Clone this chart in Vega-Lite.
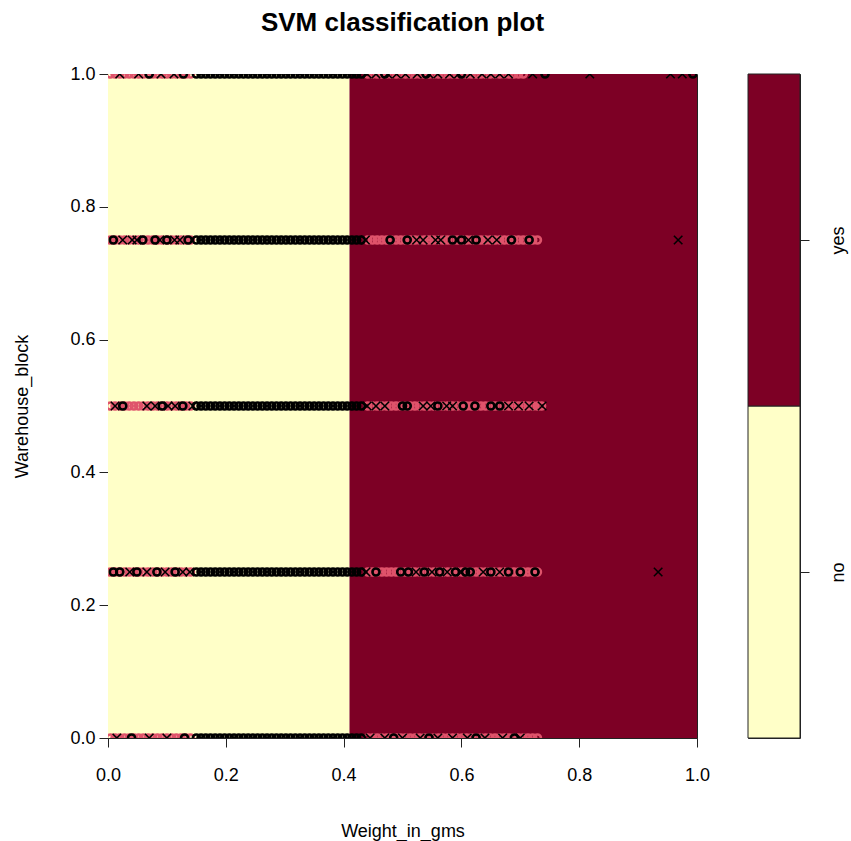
{
"$schema":"https://vega.github.io/schema/vega-lite/v6.json",
"autosize":{"type":"pad"},
"padding":{"left":13,"top":9,"right":5,"bottom":20},
"background":"white",
"config":{
 "view":{"stroke":"#222","strokeWidth":1},
 "font":"Liberation Sans",
 "axis":{"labelFont":"Liberation Sans","labelFontSize":18,"labelColor":"#000","titleFont":"Liberation Sans","titleFontSize":18,"titleFontWeight":"normal","titleColor":"#000","tickColor":"#222","domainColor":"#222","grid":false,"labelFlush":false,"labelOverlap":false},
 "title":{"font":"Liberation Sans","fontSize":26,"fontWeight":"bold","color":"#000"}
},
"datasets":{
 "regions":[{"x0":0,"x1":0.41,"y0":0,"y1":1,"pred":"no"},{"x0":0.41,"x1":1,"y0":0,"y1":1,"pred":"yes"}],
 "legend":[{"cls":"no","lo":0,"hi":1},{"cls":"yes","lo":1,"hi":2}],
 "yes_o":[
{"w":0.004,"b":1},{"w":0.012,"b":1},{"w":0.02,"b":1},{"w":0.028,"b":1},{"w":0.036,"b":1},{"w":0.044,"b":1},{"w":0.052,"b":1},{"w":0.06,"b":1},{"w":0.068,"b":1},{"w":0.076,"b":1},{"w":0.084,"b":1},{"w":0.092,"b":1},{"w":0.1,"b":1},{"w":0.108,"b":1},{"w":0.116,"b":1},{"w":0.124,"b":1},{"w":0.132,"b":1},{"w":0.14,"b":1},
{"w":0.441,"b":1},{"w":0.449,"b":1},{"w":0.457,"b":1},{"w":0.465,"b":1},{"w":0.473,"b":1},{"w":0.481,"b":1},{"w":0.489,"b":1},{"w":0.497,"b":1},{"w":0.505,"b":1},{"w":0.513,"b":1},{"w":0.521,"b":1},{"w":0.529,"b":1},{"w":0.537,"b":1},{"w":0.545,"b":1},{"w":0.553,"b":1},{"w":0.561,"b":1},{"w":0.569,"b":1},{"w":0.577,"b":1},{"w":0.585,"b":1},{"w":0.593,"b":1},{"w":0.601,"b":1},{"w":0.609,"b":1},{"w":0.617,"b":1},{"w":0.625,"b":1},{"w":0.633,"b":1},{"w":0.641,"b":1},{"w":0.649,"b":1},{"w":0.657,"b":1},{"w":0.665,"b":1},{"w":0.673,"b":1},{"w":0.681,"b":1},{"w":0.689,"b":1},{"w":0.697,"b":1},{"w":0.705,"b":1},
{"w":0.004,"b":0.75},{"w":0.012,"b":0.75},{"w":0.02,"b":0.75},{"w":0.028,"b":0.75},{"w":0.036,"b":0.75},{"w":0.044,"b":0.75},{"w":0.052,"b":0.75},{"w":0.06,"b":0.75},{"w":0.068,"b":0.75},{"w":0.076,"b":0.75},{"w":0.084,"b":0.75},{"w":0.092,"b":0.75},{"w":0.1,"b":0.75},{"w":0.108,"b":0.75},{"w":0.116,"b":0.75},{"w":0.124,"b":0.75},{"w":0.132,"b":0.75},{"w":0.14,"b":0.75},
{"w":0.441,"b":0.75},{"w":0.449,"b":0.75},{"w":0.457,"b":0.75},{"w":0.465,"b":0.75},{"w":0.473,"b":0.75},{"w":0.481,"b":0.75},{"w":0.489,"b":0.75},{"w":0.497,"b":0.75},{"w":0.505,"b":0.75},{"w":0.513,"b":0.75},{"w":0.521,"b":0.75},{"w":0.529,"b":0.75},{"w":0.537,"b":0.75},{"w":0.545,"b":0.75},{"w":0.553,"b":0.75},{"w":0.561,"b":0.75},{"w":0.569,"b":0.75},{"w":0.577,"b":0.75},{"w":0.585,"b":0.75},{"w":0.593,"b":0.75},{"w":0.601,"b":0.75},{"w":0.609,"b":0.75},{"w":0.617,"b":0.75},{"w":0.625,"b":0.75},{"w":0.633,"b":0.75},{"w":0.641,"b":0.75},{"w":0.649,"b":0.75},{"w":0.657,"b":0.75},{"w":0.665,"b":0.75},{"w":0.673,"b":0.75},{"w":0.681,"b":0.75},{"w":0.689,"b":0.75},{"w":0.697,"b":0.75},{"w":0.705,"b":0.75},{"w":0.713,"b":0.75},{"w":0.721,"b":0.75},{"w":0.729,"b":0.75},
{"w":0.004,"b":0.5},{"w":0.012,"b":0.5},{"w":0.02,"b":0.5},{"w":0.028,"b":0.5},{"w":0.036,"b":0.5},{"w":0.044,"b":0.5},{"w":0.052,"b":0.5},{"w":0.06,"b":0.5},{"w":0.068,"b":0.5},{"w":0.076,"b":0.5},{"w":0.084,"b":0.5},{"w":0.092,"b":0.5},{"w":0.1,"b":0.5},{"w":0.108,"b":0.5},{"w":0.116,"b":0.5},{"w":0.124,"b":0.5},{"w":0.132,"b":0.5},{"w":0.14,"b":0.5},
{"w":0.441,"b":0.5},{"w":0.449,"b":0.5},{"w":0.457,"b":0.5},{"w":0.465,"b":0.5},{"w":0.473,"b":0.5},{"w":0.481,"b":0.5},{"w":0.489,"b":0.5},{"w":0.497,"b":0.5},{"w":0.505,"b":0.5},{"w":0.513,"b":0.5},{"w":0.521,"b":0.5},{"w":0.529,"b":0.5},{"w":0.537,"b":0.5},{"w":0.545,"b":0.5},{"w":0.553,"b":0.5},{"w":0.561,"b":0.5},{"w":0.569,"b":0.5},{"w":0.577,"b":0.5},{"w":0.585,"b":0.5},{"w":0.593,"b":0.5},{"w":0.601,"b":0.5},{"w":0.609,"b":0.5},{"w":0.617,"b":0.5},{"w":0.625,"b":0.5},{"w":0.633,"b":0.5},{"w":0.641,"b":0.5},{"w":0.649,"b":0.5},{"w":0.657,"b":0.5},{"w":0.665,"b":0.5},{"w":0.673,"b":0.5},{"w":0.681,"b":0.5},{"w":0.689,"b":0.5},{"w":0.697,"b":0.5},{"w":0.705,"b":0.5},{"w":0.713,"b":0.5},{"w":0.721,"b":0.5},{"w":0.729,"b":0.5},{"w":0.736,"b":0.5},
{"w":0.004,"b":0.25},{"w":0.012,"b":0.25},{"w":0.02,"b":0.25},{"w":0.028,"b":0.25},{"w":0.036,"b":0.25},{"w":0.044,"b":0.25},{"w":0.052,"b":0.25},{"w":0.06,"b":0.25},{"w":0.068,"b":0.25},{"w":0.076,"b":0.25},{"w":0.084,"b":0.25},{"w":0.092,"b":0.25},{"w":0.1,"b":0.25},{"w":0.108,"b":0.25},{"w":0.116,"b":0.25},{"w":0.124,"b":0.25},{"w":0.132,"b":0.25},{"w":0.14,"b":0.25},
{"w":0.441,"b":0.25},{"w":0.449,"b":0.25},{"w":0.457,"b":0.25},{"w":0.465,"b":0.25},{"w":0.473,"b":0.25},{"w":0.481,"b":0.25},{"w":0.489,"b":0.25},{"w":0.497,"b":0.25},{"w":0.505,"b":0.25},{"w":0.513,"b":0.25},{"w":0.521,"b":0.25},{"w":0.529,"b":0.25},{"w":0.537,"b":0.25},{"w":0.545,"b":0.25},{"w":0.553,"b":0.25},{"w":0.561,"b":0.25},{"w":0.569,"b":0.25},{"w":0.577,"b":0.25},{"w":0.585,"b":0.25},{"w":0.593,"b":0.25},{"w":0.601,"b":0.25},{"w":0.609,"b":0.25},{"w":0.617,"b":0.25},{"w":0.625,"b":0.25},{"w":0.633,"b":0.25},{"w":0.641,"b":0.25},{"w":0.649,"b":0.25},{"w":0.657,"b":0.25},{"w":0.665,"b":0.25},{"w":0.673,"b":0.25},{"w":0.681,"b":0.25},{"w":0.689,"b":0.25},{"w":0.697,"b":0.25},{"w":0.705,"b":0.25},{"w":0.713,"b":0.25},{"w":0.721,"b":0.25},{"w":0.729,"b":0.25},
{"w":0.004,"b":0},{"w":0.012,"b":0},{"w":0.02,"b":0},{"w":0.028,"b":0},{"w":0.036,"b":0},{"w":0.044,"b":0},{"w":0.052,"b":0},{"w":0.06,"b":0},{"w":0.068,"b":0},{"w":0.076,"b":0},{"w":0.084,"b":0},{"w":0.092,"b":0},{"w":0.1,"b":0},{"w":0.108,"b":0},{"w":0.116,"b":0},{"w":0.124,"b":0},{"w":0.132,"b":0},{"w":0.14,"b":0},
{"w":0.441,"b":0},{"w":0.449,"b":0},{"w":0.457,"b":0},{"w":0.465,"b":0},{"w":0.473,"b":0},{"w":0.481,"b":0},{"w":0.489,"b":0},{"w":0.497,"b":0},{"w":0.505,"b":0},{"w":0.513,"b":0},{"w":0.521,"b":0},{"w":0.529,"b":0},{"w":0.537,"b":0},{"w":0.545,"b":0},{"w":0.553,"b":0},{"w":0.561,"b":0},{"w":0.569,"b":0},{"w":0.577,"b":0},{"w":0.585,"b":0},{"w":0.593,"b":0},{"w":0.601,"b":0},{"w":0.609,"b":0},{"w":0.617,"b":0},{"w":0.625,"b":0},{"w":0.633,"b":0},{"w":0.641,"b":0},{"w":0.649,"b":0},{"w":0.657,"b":0},{"w":0.665,"b":0},{"w":0.673,"b":0},{"w":0.681,"b":0},{"w":0.689,"b":0},{"w":0.697,"b":0},{"w":0.705,"b":0},{"w":0.713,"b":0},{"w":0.721,"b":0},{"w":0.729,"b":0}
 ],
 "no_o":[
{"w":0.15,"b":1},{"w":0.158,"b":1},{"w":0.166,"b":1},{"w":0.174,"b":1},{"w":0.182,"b":1},{"w":0.19,"b":1},{"w":0.198,"b":1},{"w":0.206,"b":1},{"w":0.214,"b":1},{"w":0.222,"b":1},{"w":0.23,"b":1},{"w":0.238,"b":1},{"w":0.246,"b":1},{"w":0.254,"b":1},{"w":0.262,"b":1},{"w":0.27,"b":1},{"w":0.278,"b":1},{"w":0.286,"b":1},{"w":0.294,"b":1},{"w":0.302,"b":1},{"w":0.31,"b":1},{"w":0.318,"b":1},{"w":0.326,"b":1},{"w":0.334,"b":1},{"w":0.342,"b":1},{"w":0.35,"b":1},{"w":0.358,"b":1},{"w":0.366,"b":1},{"w":0.374,"b":1},{"w":0.382,"b":1},{"w":0.39,"b":1},{"w":0.398,"b":1},{"w":0.406,"b":1},{"w":0.414,"b":1},{"w":0.422,"b":1},{"w":0.43,"b":1},
{"w":0.07,"b":1},{"w":0.128,"b":1},{"w":0.47,"b":1},{"w":0.54,"b":1},{"w":0.6,"b":1},{"w":0.742,"b":1},{"w":0.993,"b":1},
{"w":0.15,"b":0.75},{"w":0.158,"b":0.75},{"w":0.166,"b":0.75},{"w":0.174,"b":0.75},{"w":0.182,"b":0.75},{"w":0.19,"b":0.75},{"w":0.198,"b":0.75},{"w":0.206,"b":0.75},{"w":0.214,"b":0.75},{"w":0.222,"b":0.75},{"w":0.23,"b":0.75},{"w":0.238,"b":0.75},{"w":0.246,"b":0.75},{"w":0.254,"b":0.75},{"w":0.262,"b":0.75},{"w":0.27,"b":0.75},{"w":0.278,"b":0.75},{"w":0.286,"b":0.75},{"w":0.294,"b":0.75},{"w":0.302,"b":0.75},{"w":0.31,"b":0.75},{"w":0.318,"b":0.75},{"w":0.326,"b":0.75},{"w":0.334,"b":0.75},{"w":0.342,"b":0.75},{"w":0.35,"b":0.75},{"w":0.358,"b":0.75},{"w":0.366,"b":0.75},{"w":0.374,"b":0.75},{"w":0.382,"b":0.75},{"w":0.39,"b":0.75},{"w":0.398,"b":0.75},{"w":0.406,"b":0.75},{"w":0.414,"b":0.75},{"w":0.422,"b":0.75},{"w":0.43,"b":0.75},
{"w":0.009,"b":0.75},{"w":0.059,"b":0.75},{"w":0.08,"b":0.75},{"w":0.1,"b":0.75},{"w":0.136,"b":0.75},{"w":0.479,"b":0.75},{"w":0.508,"b":0.75},{"w":0.585,"b":0.75},{"w":0.6,"b":0.75},{"w":0.625,"b":0.75},{"w":0.685,"b":0.75},{"w":0.715,"b":0.75},
{"w":0.15,"b":0.5},{"w":0.158,"b":0.5},{"w":0.166,"b":0.5},{"w":0.174,"b":0.5},{"w":0.182,"b":0.5},{"w":0.19,"b":0.5},{"w":0.198,"b":0.5},{"w":0.206,"b":0.5},{"w":0.214,"b":0.5},{"w":0.222,"b":0.5},{"w":0.23,"b":0.5},{"w":0.238,"b":0.5},{"w":0.246,"b":0.5},{"w":0.254,"b":0.5},{"w":0.262,"b":0.5},{"w":0.27,"b":0.5},{"w":0.278,"b":0.5},{"w":0.286,"b":0.5},{"w":0.294,"b":0.5},{"w":0.302,"b":0.5},{"w":0.31,"b":0.5},{"w":0.318,"b":0.5},{"w":0.326,"b":0.5},{"w":0.334,"b":0.5},{"w":0.342,"b":0.5},{"w":0.35,"b":0.5},{"w":0.358,"b":0.5},{"w":0.366,"b":0.5},{"w":0.374,"b":0.5},{"w":0.382,"b":0.5},{"w":0.39,"b":0.5},{"w":0.398,"b":0.5},{"w":0.406,"b":0.5},{"w":0.414,"b":0.5},{"w":0.422,"b":0.5},{"w":0.43,"b":0.5},
{"w":0.025,"b":0.5},{"w":0.092,"b":0.5},{"w":0.127,"b":0.5},{"w":0.5,"b":0.5},{"w":0.508,"b":0.5},{"w":0.56,"b":0.5},{"w":0.603,"b":0.5},{"w":0.623,"b":0.5},{"w":0.65,"b":0.5},{"w":0.665,"b":0.5},
{"w":0.15,"b":0.25},{"w":0.158,"b":0.25},{"w":0.166,"b":0.25},{"w":0.174,"b":0.25},{"w":0.182,"b":0.25},{"w":0.19,"b":0.25},{"w":0.198,"b":0.25},{"w":0.206,"b":0.25},{"w":0.214,"b":0.25},{"w":0.222,"b":0.25},{"w":0.23,"b":0.25},{"w":0.238,"b":0.25},{"w":0.246,"b":0.25},{"w":0.254,"b":0.25},{"w":0.262,"b":0.25},{"w":0.27,"b":0.25},{"w":0.278,"b":0.25},{"w":0.286,"b":0.25},{"w":0.294,"b":0.25},{"w":0.302,"b":0.25},{"w":0.31,"b":0.25},{"w":0.318,"b":0.25},{"w":0.326,"b":0.25},{"w":0.334,"b":0.25},{"w":0.342,"b":0.25},{"w":0.35,"b":0.25},{"w":0.358,"b":0.25},{"w":0.366,"b":0.25},{"w":0.374,"b":0.25},{"w":0.382,"b":0.25},{"w":0.39,"b":0.25},{"w":0.398,"b":0.25},{"w":0.406,"b":0.25},{"w":0.414,"b":0.25},{"w":0.422,"b":0.25},{"w":0.43,"b":0.25},
{"w":0.009,"b":0.25},{"w":0.02,"b":0.25},{"w":0.049,"b":0.25},{"w":0.083,"b":0.25},{"w":0.114,"b":0.25},{"w":0.455,"b":0.25},{"w":0.497,"b":0.25},{"w":0.51,"b":0.25},{"w":0.537,"b":0.25},{"w":0.563,"b":0.25},{"w":0.59,"b":0.25},{"w":0.607,"b":0.25},{"w":0.615,"b":0.25},{"w":0.65,"b":0.25},{"w":0.68,"b":0.25},{"w":0.7,"b":0.25},{"w":0.725,"b":0.25},
{"w":0.15,"b":0},{"w":0.158,"b":0},{"w":0.166,"b":0},{"w":0.174,"b":0},{"w":0.182,"b":0},{"w":0.19,"b":0},{"w":0.198,"b":0},{"w":0.206,"b":0},{"w":0.214,"b":0},{"w":0.222,"b":0},{"w":0.23,"b":0},{"w":0.238,"b":0},{"w":0.246,"b":0},{"w":0.254,"b":0},{"w":0.262,"b":0},{"w":0.27,"b":0},{"w":0.278,"b":0},{"w":0.286,"b":0},{"w":0.294,"b":0},{"w":0.302,"b":0},{"w":0.31,"b":0},{"w":0.318,"b":0},{"w":0.326,"b":0},{"w":0.334,"b":0},{"w":0.342,"b":0},{"w":0.35,"b":0},{"w":0.358,"b":0},{"w":0.366,"b":0},{"w":0.374,"b":0},{"w":0.382,"b":0},{"w":0.39,"b":0},{"w":0.398,"b":0},{"w":0.406,"b":0},{"w":0.414,"b":0},{"w":0.422,"b":0},{"w":0.43,"b":0},
{"w":0.04,"b":0},{"w":0.13,"b":0},{"w":0.485,"b":0},{"w":0.545,"b":0},{"w":0.625,"b":0},{"w":0.69,"b":0}
 ],
 "no_x":[
{"w":0.02,"b":1},{"w":0.052,"b":1},{"w":0.09,"b":1},{"w":0.112,"b":1},{"w":0.44,"b":1},{"w":0.455,"b":1},{"w":0.475,"b":1},{"w":0.49,"b":1},{"w":0.505,"b":1},{"w":0.525,"b":1},{"w":0.545,"b":1},{"w":0.56,"b":1},{"w":0.58,"b":1},{"w":0.595,"b":1},{"w":0.615,"b":1},{"w":0.635,"b":1},{"w":0.65,"b":1},{"w":0.665,"b":1},{"w":0.68,"b":1},{"w":0.721,"b":1},{"w":0.818,"b":1},{"w":0.955,"b":1},{"w":0.975,"b":1},
{"w":0.025,"b":0.75},{"w":0.041,"b":0.75},{"w":0.049,"b":0.75},{"w":0.088,"b":0.75},{"w":0.113,"b":0.75},{"w":0.122,"b":0.75},{"w":0.437,"b":0.75},{"w":0.524,"b":0.75},{"w":0.535,"b":0.75},{"w":0.556,"b":0.75},{"w":0.565,"b":0.75},{"w":0.612,"b":0.75},{"w":0.645,"b":0.75},{"w":0.66,"b":0.75},{"w":0.968,"b":0.75},
{"w":0.012,"b":0.5},{"w":0.066,"b":0.5},{"w":0.08,"b":0.5},{"w":0.102,"b":0.5},{"w":0.114,"b":0.5},{"w":0.144,"b":0.5},{"w":0.44,"b":0.5},{"w":0.455,"b":0.5},{"w":0.47,"b":0.5},{"w":0.535,"b":0.5},{"w":0.548,"b":0.5},{"w":0.575,"b":0.5},{"w":0.585,"b":0.5},{"w":0.68,"b":0.5},{"w":0.697,"b":0.5},{"w":0.715,"b":0.5},{"w":0.737,"b":0.5},
{"w":0.037,"b":0.25},{"w":0.066,"b":0.25},{"w":0.097,"b":0.25},{"w":0.127,"b":0.25},{"w":0.139,"b":0.25},{"w":0.438,"b":0.25},{"w":0.523,"b":0.25},{"w":0.55,"b":0.25},{"w":0.576,"b":0.25},{"w":0.6,"b":0.25},{"w":0.637,"b":0.25},{"w":0.665,"b":0.25},{"w":0.934,"b":0.25},
{"w":0.015,"b":0},{"w":0.07,"b":0},{"w":0.1,"b":0},{"w":0.445,"b":0},{"w":0.47,"b":0},{"w":0.5,"b":0},{"w":0.53,"b":0},{"w":0.56,"b":0},{"w":0.585,"b":0},{"w":0.61,"b":0},{"w":0.64,"b":0},{"w":0.67,"b":0},{"w":0.7,"b":0}
 ]
},
"spacing":51,
"bounds":"flush",
"hconcat":[
 {
  "width":589,"height":664,
  "title":{"text":"SVM classification plot","anchor":"middle","offset":29},
  "layer":[
   {"data":{"name":"regions"},"mark":{"type":"rect"},
    "encoding":{
     "x":{"field":"x0","type":"quantitative","scale":{"domain":[0,1],"nice":false,"zero":false},
          "axis":{"title":"Weight_in_gms","values":[0,0.2,0.4,0.6,0.8,1],"format":".1f","tickSize":9,"labelPadding":19,"titlePadding":38}},
     "x2":{"field":"x1"},
     "y":{"field":"y0","type":"quantitative","scale":{"domain":[0,1],"nice":false,"zero":false},
          "axis":{"title":"Warehouse_block","values":[0,0.2,0.4,0.6,0.8,1],"format":".1f","tickSize":9,"labelPadding":4,"titlePadding":38}},
     "y2":{"field":"y1"},
     "fill":{"field":"pred","type":"nominal","scale":{"domain":["no","yes"],"range":["#FFFFC8","#7D0025"]},"legend":null}
    }},
   {"data":{"name":"yes_o"},"mark":{"type":"point","shape":"circle","filled":false,"size":50,"strokeWidth":2.6,"stroke":"#DF536B","opacity":1,"clip":true},
    "encoding":{"x":{"field":"w","type":"quantitative"},"y":{"field":"b","type":"quantitative"}}},
   {"data":{"name":"no_o"},"mark":{"type":"point","shape":"circle","filled":false,"size":50,"strokeWidth":2.6,"stroke":"#000000","opacity":1,"clip":true},
    "encoding":{"x":{"field":"w","type":"quantitative"},"y":{"field":"b","type":"quantitative"}}},
   {"data":{"name":"no_x"},"mark":{"type":"point","shape":"M-1,-1L1,1M1,-1L-1,1","filled":false,"size":72,"strokeWidth":1.6,"stroke":"#000000","opacity":1,"clip":true},
    "encoding":{"x":{"field":"w","type":"quantitative"},"y":{"field":"b","type":"quantitative"}}}
  ]
 },
 {
  "width":52,"height":664,
  "data":{"name":"legend"},
  "mark":{"type":"rect","stroke":"#222","strokeWidth":1},
  "encoding":{
   "y":{"field":"lo","type":"quantitative","scale":{"domain":[0,2],"nice":false,"zero":false},
        "axis":{"orient":"right","title":null,"values":[0.5,1.5],"labelExpr":"datum.value < 1 ? 'no' : 'yes'","labelAngle":270,"labelAlign":"center","labelBaseline":"top","domain":false,"tickSize":9,"labelPadding":20}},
   "y2":{"field":"hi"},
   "fill":{"field":"cls","type":"nominal","scale":{"domain":["no","yes"],"range":["#FFFFC8","#7D0025"]},"legend":null}
  }
 }
]
}
